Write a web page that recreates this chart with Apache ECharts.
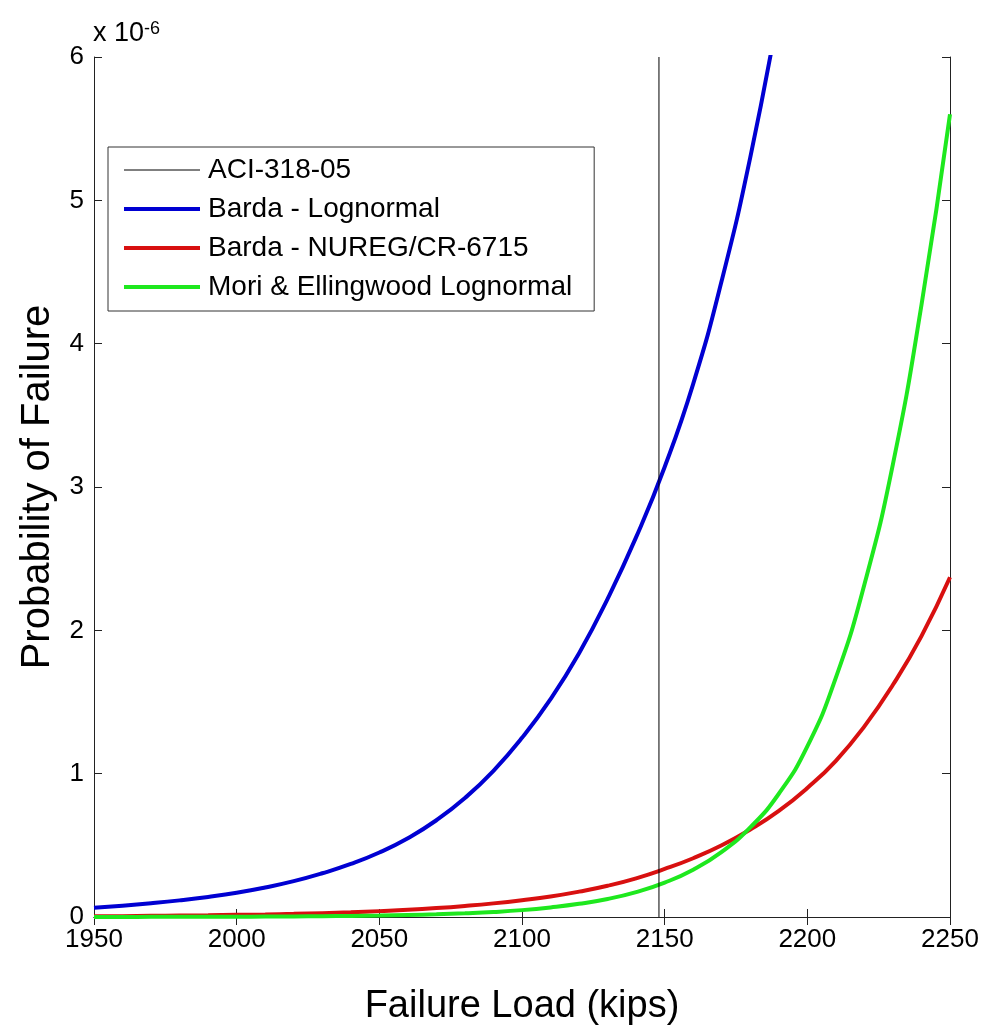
<!DOCTYPE html>
<html>
<head>
<meta charset="utf-8">
<script src="https://cdn.jsdelivr.net/npm/echarts@6/dist/echarts.min.js"></script>
<style>html,body{margin:0;padding:0;background:#fff}#c{width:988px;height:1031px}</style>
</head>
<body>
<div id="c"></div>
<script>
// Data (probability values in units of 1e-6)
const seriesNames = ['ACI-318-05', 'Barda - Lognormal', 'Barda - NUREG/CR-6715', 'Mori & Ellingwood Lognormal'];
const xTicks = [1950, 2000, 2050, 2100, 2150, 2200, 2250];
const yTicks = [0, 1, 2, 3, 4, 5, 6];

const aciX = [2148, 2148];
const aciY = [0, 6];

const blueX = [1950,1960,1970,1980,1990,2000,2010,2020,2030,2040,2050,2060,2070,2080,2090,2100,2110,2120,2130,2140,2150,2160,2170,2180,2190];
const blueY = [0.065,0.079,0.096,0.116,0.14,0.169,0.206,0.25,0.305,0.37,0.45,0.55,0.675,0.83,1.02,1.25,1.52,1.84,2.22,2.65,3.14,3.72,4.44,5.3,6.33];

const redX = [1950,1960,1970,1980,1990,2000,2010,2020,2030,2040,2050,2060,2070,2080,2090,2100,2110,2120,2130,2140,2150,2160,2170,2180,2190,2200,2210,2220,2230,2240,2250];
const redY = [0.005,0.006,0.008,0.01,0.012,0.015,0.018,0.022,0.027,0.033,0.041,0.05,0.062,0.077,0.095,0.117,0.143,0.177,0.218,0.27,0.335,0.41,0.5,0.61,0.74,0.9,1.09,1.33,1.62,1.96,2.37];

const greenX = [1950,1960,1970,1980,1990,2000,2010,2020,2030,2040,2050,2060,2070,2080,2090,2100,2110,2120,2130,2140,2150,2160,2170,2180,2190,2200,2210,2220,2230,2240,2250];
const greenY = [0.0005,0.0007,0.0009,0.0012,0.0016,0.0022,0.003,0.004,0.0055,0.0075,0.01,0.014,0.019,0.026,0.035,0.048,0.067,0.092,0.126,0.174,0.24,0.33,0.454,0.625,0.86,1.19,1.67,2.32,3.16,4.27,5.6];

const colors = ['#000000', '#0000d2', '#d81010', '#1ee81e'];
const widths = [1, 4, 4, 4];

function pairs(xs, ys) { return xs.map((x, i) => [x, ys[i]]); }

const FONT = 'Liberation Sans, Arial, sans-serif';
const chart = echarts.init(document.getElementById('c'), null, {renderer: 'canvas'});

const axisLineStyle = {color: '#222', width: 1};

const option = {
  backgroundColor: '#ffffff',
  animation: false,
  grid: {left: 94, right: 38, top: 57, bottom: 88, containLabel: false},
  xAxis: [{
    type: 'value', min: xTicks[0], max: xTicks[xTicks.length - 1], interval: 50,
    position: 'bottom',
    name: 'Failure Load (kips)', nameLocation: 'middle', nameGap: 71,
    nameTextStyle: {fontFamily: FONT, fontSize: 38, color: '#000'},
    axisLine: {show: true, lineStyle: axisLineStyle},
    axisTick: {show: true, inside: true, length: 8, lineStyle: axisLineStyle},
    axisLabel: {show: true, fontFamily: FONT, fontSize: 26, color: '#000', margin: 10, formatter: v => String(v)},
    splitLine: {show: false}
  }, {
    type: 'value', min: xTicks[0], max: xTicks[xTicks.length - 1], interval: 50,
    position: 'top',
    axisLine: {show: true, lineStyle: axisLineStyle},
    axisTick: {show: true, inside: true, length: 8, lineStyle: axisLineStyle},
    axisLabel: {show: false},
    splitLine: {show: false}
  }],
  yAxis: [{
    type: 'value', min: yTicks[0], max: yTicks[yTicks.length - 1], interval: 1,
    position: 'left',
    name: 'Probability of Failure', nameLocation: 'middle', nameGap: 36,
    nameTextStyle: {fontFamily: FONT, fontSize: 40, color: '#000'},
    axisLine: {show: true, lineStyle: axisLineStyle},
    axisTick: {show: true, inside: true, length: 8, lineStyle: axisLineStyle},
    axisLabel: {show: true, fontFamily: FONT, fontSize: 26, color: '#000', margin: 10},
    splitLine: {show: false}
  }, {
    type: 'value', min: yTicks[0], max: yTicks[yTicks.length - 1], interval: 1,
    position: 'right',
    axisLine: {show: true, lineStyle: axisLineStyle},
    axisTick: {show: true, inside: true, length: 8, lineStyle: axisLineStyle},
    axisLabel: {show: false},
    splitLine: {show: false}
  }],
  legend: {
    show: true,
    orient: 'vertical',
    left: 108, top: 147,
    padding: [9, 22, 10, 14],
    backgroundColor: '#ffffff',
    borderColor: '#333', borderWidth: 1,
    itemWidth: 76, itemHeight: 14, itemGap: 11,
    textStyle: {fontFamily: FONT, fontSize: 28, color: '#000', padding: [0, 0, 0, 3]},
    selectedMode: false,
    data: seriesNames.map((n, i) => ({name: n, lineStyle: {width: widths[i], color: colors[i]}, itemStyle: {opacity: 0}}))
  },
  graphic: [{
    type: 'text', left: 93, top: 20,
    style: {
      text: '{a|x 10}{b|-6}',
      rich: {
        a: {fontFamily: FONT, fontSize: 27, fill: '#000', color: '#000', verticalAlign: 'bottom', lineHeight: 27},
        b: {fontFamily: FONT, fontSize: 18, fill: '#000', color: '#000', verticalAlign: 'top', padding: [0, 0, 14, 0], lineHeight: 18}
      }
    }
  }],
  series: [
    {name: seriesNames[0], type: 'line', data: pairs(aciX, aciY), symbol: 'none', showSymbol: false, lineStyle: {color: colors[0], width: widths[0]}, itemStyle: {color: colors[0]}, clip: true, z: 3},
    {name: seriesNames[1], type: 'line', data: pairs(blueX, blueY), symbol: 'none', showSymbol: false, smooth: true, lineStyle: {color: colors[1], width: widths[1]}, itemStyle: {color: colors[1]}, clip: true, z: 2},
    {name: seriesNames[2], type: 'line', data: pairs(redX, redY), symbol: 'none', showSymbol: false, smooth: true, lineStyle: {color: colors[2], width: widths[2]}, itemStyle: {color: colors[2]}, clip: true, z: 2},
    {name: seriesNames[3], type: 'line', data: pairs(greenX, greenY), symbol: 'none', showSymbol: false, smooth: true, lineStyle: {color: colors[3], width: widths[3]}, itemStyle: {color: colors[3]}, clip: true, z: 2}
  ]
};
chart.setOption(option);
</script>
</body>
</html>
